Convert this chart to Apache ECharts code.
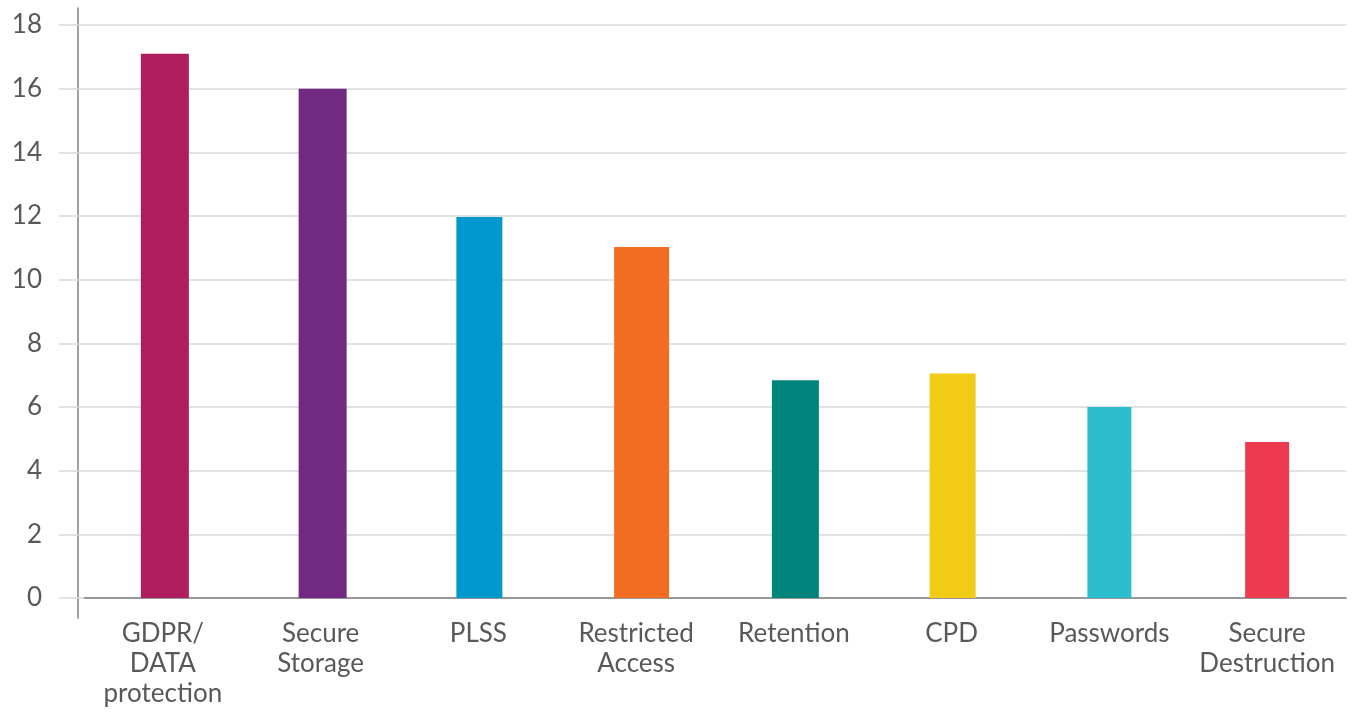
<!DOCTYPE html>
<html>
<head>
<meta charset="utf-8">
<script src="https://cdn.jsdelivr.net/npm/echarts@6/dist/echarts.min.js"></script>
<style>
html,body{margin:0;padding:0;background:#fff;}
#chart{width:1362px;height:722px;}
</style>
</head>
<body>
<div id="chart"></div>
<script>
const categories = ['GDPR/\nDATA\nprotection', 'Secure\nStorage', 'PLSS', 'Restricted\nAccess', 'Retention', 'CPD', 'Passwords', 'Secure\nDestruction'];
const values = [17.1, 16.0, 11.97, 11.03, 6.84, 7.05, 6.0, 4.9];
const colors = ['#AE1E5F', '#722982', '#0099CF', '#F26C22', '#00857C', '#F2CB17', '#2DBECD', '#EE3A50'];
const barWidths = [48, 48, 46, 55, 47, 46, 44, 44];
const yTicks = { min: 0, max: 18, interval: 2 };

const FONT = 'Lato, "Open Sans", sans-serif';
const TEXT = '#595959';

const series = categories.map((c, i) => ({
  type: 'bar',
  xAxisIndex: 0,
  yAxisIndex: 0,
  barWidth: barWidths[i],
  barGap: '-100%',
  itemStyle: { color: colors[i] },
  data: values.map((v, j) => (j === i ? v : null)),
  silent: true
}));

const chart = echarts.init(document.getElementById('chart'), null, { renderer: 'canvas' });
chart.setOption({
  animation: false,
  backgroundColor: '#ffffff',
  grid: [
    { left: 84, right: 16, top: 25, bottom: 124 },
    { left: 78, right: 16, top: 8, bottom: 104 }
  ],
  xAxis: [
    {
      gridIndex: 0,
      type: 'category',
      data: categories,
      boundaryGap: true,
      axisLine: { show: true, lineStyle: { color: '#7f7f7f', width: 1.5 } },
      axisTick: { show: false },
      axisLabel: {
        interval: 0,
        margin: 21,
        color: TEXT,
        fontFamily: FONT,
        fontSize: 26,
        lineHeight: 30,
        verticalAlign: 'top'
      },
      splitLine: { show: false }
    },
    {
      gridIndex: 1,
      type: 'value',
      show: false
    }
  ],
  yAxis: [
    {
      gridIndex: 0,
      type: 'value',
      min: yTicks.min,
      max: yTicks.max,
      interval: yTicks.interval,
      axisLine: { show: false },
      axisTick: { show: true, length: 25, lineStyle: { color: '#d9d9d9', width: 1.5 } },
      axisLabel: { margin: 42, color: TEXT, fontFamily: FONT, fontSize: 26 },
      splitLine: { show: true, lineStyle: { color: '#d9d9d9', width: 1.5 } }
    },
    {
      gridIndex: 1,
      type: 'value',
      min: 0,
      max: 1,
      axisLine: { show: true, lineStyle: { color: '#7f7f7f', width: 1.5 } },
      axisTick: { show: false },
      axisLabel: { show: false },
      splitLine: { show: false }
    }
  ],
  series: series
});
</script>
</body>
</html>
